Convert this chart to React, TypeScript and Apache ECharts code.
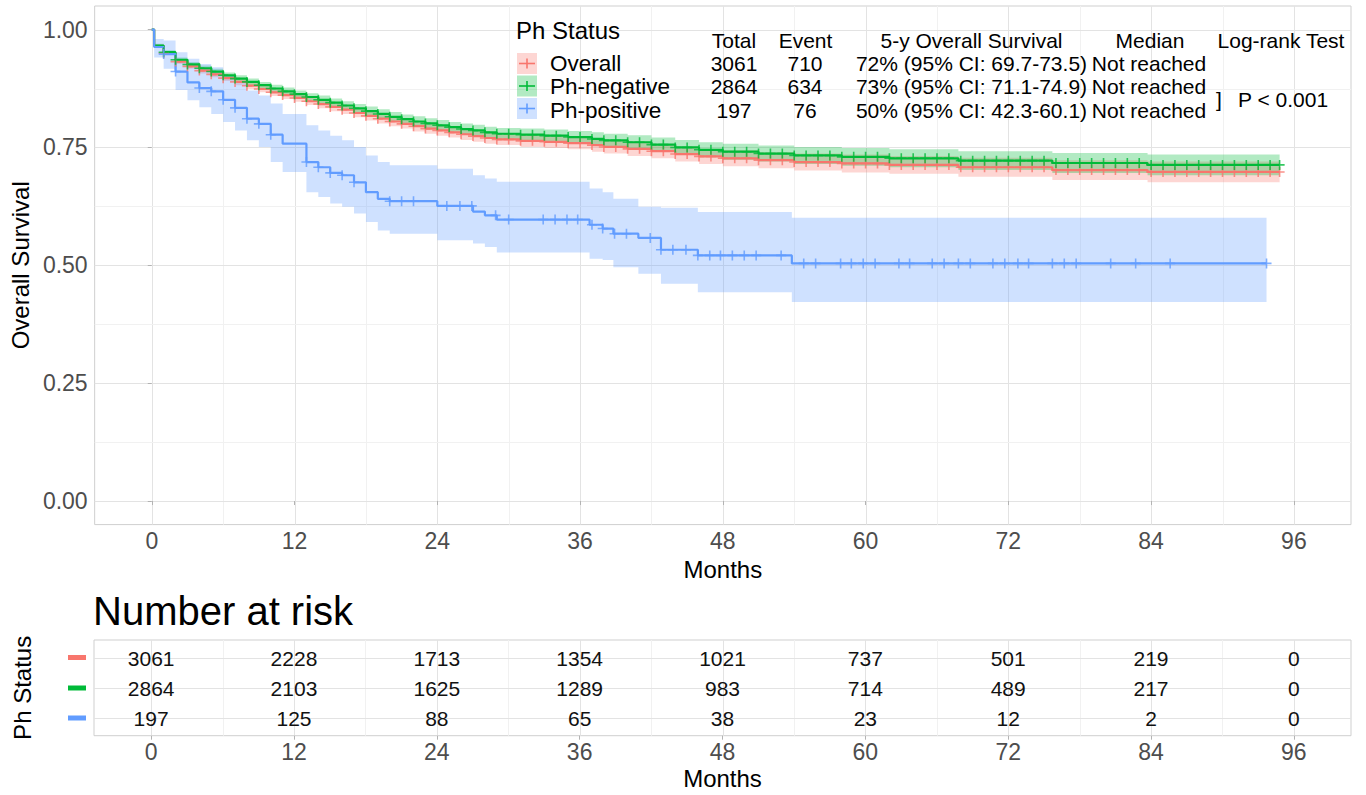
import React, { useEffect, useRef } from "react";
import * as echarts from "echarts";

const FONT = "'Liberation Sans', Arial, Helvetica, sans-serif";

// ---------- data ----------
const groups = ["Overall", "Ph-negative", "Ph-positive"];
const lineColors = ["#F8766D", "#00BA38", "#619CFF"];
const bandColors = ["rgba(248,118,109,0.3)", "rgba(0,186,56,0.3)", "rgba(97,156,255,0.3)"];

// Overall & Ph-negative share the same step times (months)
const stepTime = [0, 0.2, 1, 2, 3, 4, 5, 6, 7, 8, 9, 10, 11, 12, 13, 14, 15, 16, 17, 18, 19, 20, 21, 22, 23, 24, 25, 26, 27, 28, 29, 31, 33, 35, 37, 38, 40, 42, 44, 46, 48, 51, 54, 58, 62, 67.8, 75.7, 83.7, 94.8];

const allSurv = [1.0, 0.965, 0.950, 0.932, 0.922, 0.913, 0.905, 0.897, 0.889, 0.881, 0.874, 0.867, 0.861, 0.855, 0.848, 0.842, 0.836, 0.830, 0.823, 0.817, 0.811, 0.805, 0.800, 0.795, 0.790, 0.786, 0.782, 0.778, 0.774, 0.770, 0.767, 0.764, 0.762, 0.759, 0.755, 0.751, 0.747, 0.742, 0.736, 0.731, 0.727, 0.723, 0.719, 0.716, 0.713, 0.708, 0.702, 0.698, 0.698];
const allUpper = [1.0, 0.969, 0.954, 0.937, 0.927, 0.919, 0.911, 0.903, 0.896, 0.888, 0.881, 0.875, 0.869, 0.863, 0.856, 0.851, 0.845, 0.839, 0.832, 0.827, 0.821, 0.815, 0.810, 0.806, 0.801, 0.797, 0.793, 0.790, 0.786, 0.782, 0.779, 0.777, 0.775, 0.772, 0.769, 0.765, 0.762, 0.757, 0.752, 0.747, 0.744, 0.740, 0.737, 0.735, 0.732, 0.728, 0.723, 0.720, 0.720];
const allLower = [1.0, 0.961, 0.946, 0.927, 0.917, 0.907, 0.899, 0.891, 0.882, 0.874, 0.867, 0.859, 0.853, 0.847, 0.840, 0.833, 0.827, 0.821, 0.814, 0.807, 0.801, 0.795, 0.790, 0.784, 0.779, 0.775, 0.771, 0.766, 0.762, 0.758, 0.755, 0.751, 0.749, 0.746, 0.741, 0.737, 0.732, 0.727, 0.720, 0.715, 0.710, 0.706, 0.701, 0.697, 0.694, 0.688, 0.681, 0.676, 0.676];

const negSurv = [1.0, 0.966, 0.952, 0.936, 0.926, 0.918, 0.911, 0.903, 0.896, 0.889, 0.882, 0.875, 0.869, 0.863, 0.857, 0.851, 0.845, 0.839, 0.833, 0.827, 0.821, 0.815, 0.810, 0.805, 0.801, 0.797, 0.793, 0.789, 0.786, 0.782, 0.779, 0.777, 0.775, 0.772, 0.768, 0.765, 0.761, 0.756, 0.750, 0.745, 0.741, 0.737, 0.733, 0.730, 0.727, 0.722, 0.717, 0.713, 0.713];
const negUpper = [1.0, 0.970, 0.956, 0.941, 0.931, 0.924, 0.917, 0.909, 0.903, 0.896, 0.889, 0.883, 0.877, 0.871, 0.865, 0.860, 0.854, 0.848, 0.842, 0.837, 0.831, 0.825, 0.820, 0.816, 0.812, 0.808, 0.804, 0.801, 0.798, 0.794, 0.791, 0.790, 0.788, 0.785, 0.782, 0.779, 0.776, 0.771, 0.766, 0.761, 0.758, 0.754, 0.751, 0.749, 0.746, 0.742, 0.738, 0.735, 0.735];
const negLower = [1.0, 0.962, 0.948, 0.931, 0.921, 0.912, 0.905, 0.897, 0.889, 0.882, 0.875, 0.867, 0.861, 0.855, 0.849, 0.842, 0.836, 0.830, 0.824, 0.817, 0.811, 0.805, 0.800, 0.794, 0.790, 0.786, 0.782, 0.777, 0.774, 0.770, 0.767, 0.764, 0.762, 0.759, 0.754, 0.751, 0.746, 0.741, 0.734, 0.729, 0.724, 0.720, 0.715, 0.711, 0.708, 0.702, 0.696, 0.691, 0.691];

const posTime = [0, 0.2, 1, 2, 3, 4, 5, 6, 7, 8, 9, 10, 11, 13, 14, 15, 16, 17, 18, 19, 20, 24, 27, 28, 29, 36.8, 37.9, 38.8, 40.9, 42.8, 45.9, 53.8, 93.7];
const posSurv = [1.0, 0.963, 0.948, 0.911, 0.888, 0.876, 0.869, 0.851, 0.834, 0.811, 0.800, 0.777, 0.758, 0.719, 0.708, 0.696, 0.691, 0.676, 0.655, 0.641, 0.636, 0.626, 0.614, 0.606, 0.597, 0.586, 0.578, 0.567, 0.558, 0.533, 0.521, 0.504, 0.504];
const posUpper = [1.0, 0.980, 0.977, 0.952, 0.938, 0.927, 0.920, 0.903, 0.888, 0.871, 0.860, 0.843, 0.821, 0.797, 0.786, 0.775, 0.765, 0.751, 0.733, 0.719, 0.712, 0.705, 0.691, 0.684, 0.677, 0.663, 0.655, 0.641, 0.624, 0.622, 0.613, 0.601, 0.601];
const posLower = [1.0, 0.941, 0.917, 0.872, 0.850, 0.835, 0.821, 0.804, 0.786, 0.765, 0.751, 0.719, 0.698, 0.655, 0.645, 0.631, 0.624, 0.610, 0.592, 0.574, 0.567, 0.553, 0.546, 0.539, 0.527, 0.514, 0.511, 0.496, 0.482, 0.461, 0.443, 0.422, 0.422];

// censoring marks (months)
const censorAllNeg = [1, 2, 3, 4, 5, 6, 7, 8, 9, 10, 11, 12, 13, 14, 15, 16, 17, 18, 19, 20, 21, 22, 23, 24, 25, 26, 27, 28, 29, 30, 31, 32, 33, 34, 35, 36, 37, 38, 39, 40, 41, 42, 43, 44, 45, 46, 47, 48, 49, 50, 51, 52, 53, 54, 55, 56, 57, 58, 59, 60, 61, 62, 63, 64, 65, 66, 67, 68, 69, 70, 71, 72, 73, 74, 75, 76, 77, 78, 79, 80, 81, 82, 83, 84, 85, 86, 87, 88, 89, 90, 91, 92, 93, 94, 94.8];
const censorPos = [1, 2, 4, 5, 6, 7, 8, 9, 10, 13, 14, 15, 16, 17, 20, 21, 22, 24.8, 25.9, 26.9, 28.9, 30, 32.9, 33.9, 34.9, 35.8, 37, 37.9, 38.9, 39.9, 41.9, 42.8, 43.8, 44.9, 45.9, 46.9, 47.8, 48.8, 49.8, 50.8, 52.9, 54.8, 55.8, 57.9, 58.8, 59.8, 60.8, 62.8, 63.7, 65.6, 66.6, 67.8, 68.8, 70.7, 71.7, 72.8, 73.7, 75.7, 76.7, 77.7, 80.6, 82.7, 85.6, 93.7];

// axes
const monthTicks = [0, 12, 24, 36, 48, 60, 72, 84, 96];
const monthMinor = [6, 18, 30, 42, 54, 66, 78, 90];
const survTicks = [0, 0.25, 0.5, 0.75, 1];
const survMinor = [0.125, 0.375, 0.625, 0.875];
const riskRows = [1, 2, 3];

// number at risk
const riskTimes = [0, 12, 24, 36, 48, 60, 72, 84, 96];
const riskOverall = [3061, 2228, 1713, 1354, 1021, 737, 501, 219, 0];
const riskNeg = [2864, 2103, 1625, 1289, 983, 714, 489, 217, 0];
const riskPos = [197, 125, 88, 65, 38, 23, 12, 2, 0];

// summary table
const tableTotal = ["3061", "2864", "197"];
const tableEvent = ["710", "634", "76"];
const tableFiveYear = ["72% (95% CI: 69.7-73.5)", "73% (95% CI: 71.1-74.9)", "50% (95% CI: 42.3-60.1)"];
const tableMedian = ["Not reached", "Not reached", "Not reached"];
const logRank = "P < 0.001";

// ---------- helpers ----------
const CROSS = "path://M0,4.2H10V5.8H0Z M4.2,0H5.8V10H4.2Z";

function stepAt(times: number[], vals: number[], t: number) {
  let v = vals[0];
  for (let i = 0; i < times.length; i++) if (times[i] <= t) v = vals[i];
  return v;
}

function ribbon(times: number[], lower: number[], upper: number[], color: string) {
  return {
    type: "custom",
    xAxisIndex: 0,
    yAxisIndex: 0,
    silent: true,
    z: 1,
    data: times.map((t, i) => [t, lower[i], upper[i]]),
    encode: { x: 0, y: [1, 2] },
    renderItem: (params: any, api: any) => {
      if (params.dataIndex !== 0) return null;
      const top: number[][] = [];
      const bot: number[][] = [];
      for (let i = 0; i < times.length; i++) {
        const tn = i + 1 < times.length ? times[i + 1] : times[i];
        top.push(api.coord([times[i], upper[i]]), api.coord([tn, upper[i]]));
        bot.push(api.coord([times[i], lower[i]]), api.coord([tn, lower[i]]));
      }
      return {
        type: "polygon",
        shape: { points: top.concat(bot.reverse()) },
        style: { fill: color },
        silent: true,
      };
    },
  };
}

function kmLine(times: number[], surv: number[], color: string) {
  return {
    type: "line",
    xAxisIndex: 0,
    yAxisIndex: 0,
    step: "end",
    symbol: "none",
    showSymbol: false,
    silent: true,
    z: 3,
    data: times.map((t, i) => [t, surv[i]]),
    lineStyle: { color, width: 2.2 },
    itemStyle: { color },
  };
}

function censorMarks(times: number[], surv: number[], marks: number[], color: string) {
  return {
    type: "scatter",
    xAxisIndex: 0,
    yAxisIndex: 0,
    symbol: CROSS,
    symbolSize: 10,
    silent: true,
    z: 4,
    data: marks.map((t) => [t, stepAt(times, surv, t)]),
    itemStyle: { color },
  };
}

function gridLines(xi: number, xMaj: number[], xMin: number[], yMaj: number[], yMin: number[]) {
  const data = [
    ...xMaj.map((v) => [v, 0]),
    ...xMin.map((v) => [v, 1]),
    ...yMaj.map((v) => [v, 2]),
    ...yMin.map((v) => [v, 3]),
  ];
  return {
    type: "custom",
    xAxisIndex: xi,
    yAxisIndex: xi,
    silent: true,
    z: 0,
    data,
    renderItem: (params: any, api: any) => {
      const cs = params.coordSys;
      const v = api.value(0);
      const k = api.value(1);
      const major = k === 0 || k === 2;
      const style = { stroke: major ? "#e3e3e3" : "#f1f1f1", lineWidth: 1 };
      if (k < 2) {
        const x = Math.round(api.coord([v, xi === 0 ? 0.5 : 2])[0]) + 0.5;
        return { type: "line", shape: { x1: x, y1: cs.y, x2: x, y2: cs.y + cs.height }, style, silent: true };
      }
      const y = Math.round(api.coord([50, v])[1]) + 0.5;
      return { type: "line", shape: { x1: cs.x, y1: y, x2: cs.x + cs.width, y2: y }, style, silent: true };
    },
  };
}

function riskText() {
  const data: number[][] = [];
  const all = [riskOverall, riskNeg, riskPos];
  all.forEach((arr, r) => arr.forEach((n, i) => data.push([riskTimes[i], riskRows[r], n])));
  return {
    type: "custom",
    xAxisIndex: 1,
    yAxisIndex: 1,
    silent: true,
    z: 5,
    data,
    renderItem: (params: any, api: any) => {
      const p = api.coord([api.value(0), api.value(1)]);
      return {
        type: "text",
        x: p[0],
        y: p[1] + 1,
        style: {
          text: String(api.value(2)),
          fill: "#111",
          fontSize: 21,
          lineHeight: 21,
          fontFamily: FONT,
          align: "center",
          verticalAlign: "middle",
        },
        silent: true,
      };
    },
  };
}

const axisLabelBase = { color: "#4d4d4d", fontSize: 23, fontFamily: FONT };
const tickBase = { show: true, length: 4, lineStyle: { color: "#b3b3b3", width: 1 } };
const nameStyle = { color: "#000", fontSize: 24, fontFamily: FONT };

function txt(text: string, x: number, y: number, size: number, align = "center", color = "#000") {
  return {
    type: "text",
    x,
    y,
    z: 100,
    silent: true,
    style: { text, fill: color, fontSize: size, lineHeight: size - 2, fontFamily: FONT, align, verticalAlign: "middle" },
  };
}

function buildGraphic() {
  const g: any[] = [];
  // legend
  g.push(txt("Ph Status", 516, 30, 24, "left"));
  const keyY = [53, 75.5, 98];
  const rowY = [63, 86.5, 110];
  groups.forEach((name, i) => {
    g.push({ type: "rect", z: 100, shape: { x: 517, y: keyY[i], width: 20, height: 21 }, style: { fill: bandColors[i] }, silent: true });
    const cy = keyY[i] + 10.5;
    g.push({ type: "line", z: 101, shape: { x1: 519, y1: cy, x2: 535, y2: cy }, style: { stroke: lineColors[i], lineWidth: 1.6 }, silent: true });
    g.push({ type: "line", z: 101, shape: { x1: 527, y1: cy - 5, x2: 527, y2: cy + 5 }, style: { stroke: lineColors[i], lineWidth: 1.6 }, silent: true });
    g.push(txt(name, 550, rowY[i], 22.5, "left"));
    g.push(txt(tableTotal[i], 734, rowY[i], 21));
    g.push(txt(tableEvent[i], 805, rowY[i], 21));
    g.push(txt(tableFiveYear[i], 971.5, rowY[i], 21));
    g.push(txt(tableMedian[i], 1149, rowY[i], 21));
  });
  g.push(txt("Total", 734, 40, 21));
  g.push(txt("Event", 805.5, 40, 21));
  g.push(txt("5-y Overall Survival", 971.5, 40, 21));
  g.push(txt("Median", 1150, 40, 21));
  g.push(txt("Log-rank Test", 1281, 40, 21));
  g.push(txt("]", 1219, 99, 21));
  g.push(txt(logRank, 1238, 99, 21, "left"));
  // number at risk title
  g.push(txt("Number at risk", 93, 611, 40, "left"));
  // risk table row keys
  const barY = [657.5, 688, 718];
  barY.forEach((y, i) => {
    g.push({ type: "rect", z: 100, shape: { x: 68, y: y - 2.5, width: 18, height: 5 }, style: { fill: lineColors[i] }, silent: true });
  });
  return g;
}

export default function App() {
  const ref = useRef<HTMLDivElement>(null);
  useEffect(() => {
    if (!ref.current) return;
    const chart = echarts.init(ref.current, null, { renderer: "svg" });
    const option: any = {
      animation: false,
      backgroundColor: "#fff",
      grid: [
        { left: 94, top: 6, width: 1257, height: 518.6, show: true, borderColor: "#cfcfcf", borderWidth: 1, backgroundColor: "transparent" },
        { left: 94, top: 640, width: 1257, height: 95.7, show: true, borderColor: "#cfcfcf", borderWidth: 1, backgroundColor: "transparent" },
      ],
      xAxis: [
        {
          type: "value", gridIndex: 0, min: -4.8, max: 100.8,
          axisLine: { show: false }, splitLine: { show: false },
          axisTick: { ...tickBase, customValues: monthTicks },
          axisLabel: { ...axisLabelBase, customValues: monthTicks, margin: 5 },
          name: "Months", nameLocation: "middle", nameGap: 31, nameTextStyle: nameStyle,
        },
        {
          type: "value", gridIndex: 1, min: -4.8, max: 100.8,
          axisLine: { show: false }, splitLine: { show: false },
          axisTick: { ...tickBase, customValues: monthTicks },
          axisLabel: { ...axisLabelBase, customValues: monthTicks, margin: 5 },
          name: "Months", nameLocation: "middle", nameGap: 31, nameTextStyle: nameStyle,
        },
      ],
      yAxis: [
        {
          type: "value", gridIndex: 0, min: -0.05, max: 1.05,
          axisLine: { show: false }, splitLine: { show: false },
          axisTick: { ...tickBase, customValues: survTicks },
          axisLabel: { ...axisLabelBase, customValues: survTicks, margin: 7, formatter: (v: number) => v.toFixed(2) },
          name: "Overall Survival", nameLocation: "middle", nameGap: 60, nameTextStyle: nameStyle,
        },
        {
          type: "value", gridIndex: 1, min: 0.4, max: 3.6, inverse: true,
          axisLine: { show: false }, splitLine: { show: false },
          axisTick: { show: false }, axisLabel: { show: false },
          name: "Ph Status", nameLocation: "middle", nameGap: 60, nameTextStyle: nameStyle,
        },
      ],
      series: [
        gridLines(0, monthTicks, monthMinor, survTicks, survMinor),
        gridLines(1, monthTicks, monthMinor, riskRows, []),
        ribbon(stepTime, allLower, allUpper, bandColors[0]),
        ribbon(stepTime, negLower, negUpper, bandColors[1]),
        ribbon(posTime, posLower, posUpper, bandColors[2]),
        kmLine(stepTime, allSurv, lineColors[0]),
        kmLine(stepTime, negSurv, lineColors[1]),
        kmLine(posTime, posSurv, lineColors[2]),
        censorMarks(stepTime, allSurv, censorAllNeg, lineColors[0]),
        censorMarks(stepTime, negSurv, censorAllNeg, lineColors[1]),
        censorMarks(posTime, posSurv, censorPos, lineColors[2]),
        riskText(),
      ],
      graphic: buildGraphic(),
    };
    chart.setOption(option);
    return () => chart.dispose();
  }, []);
  return (
    <div
      ref={ref}
      style={{ position: "fixed", left: 0, top: 0, width: 1366, height: 795, background: "#fff" }}
    />
  );
}
